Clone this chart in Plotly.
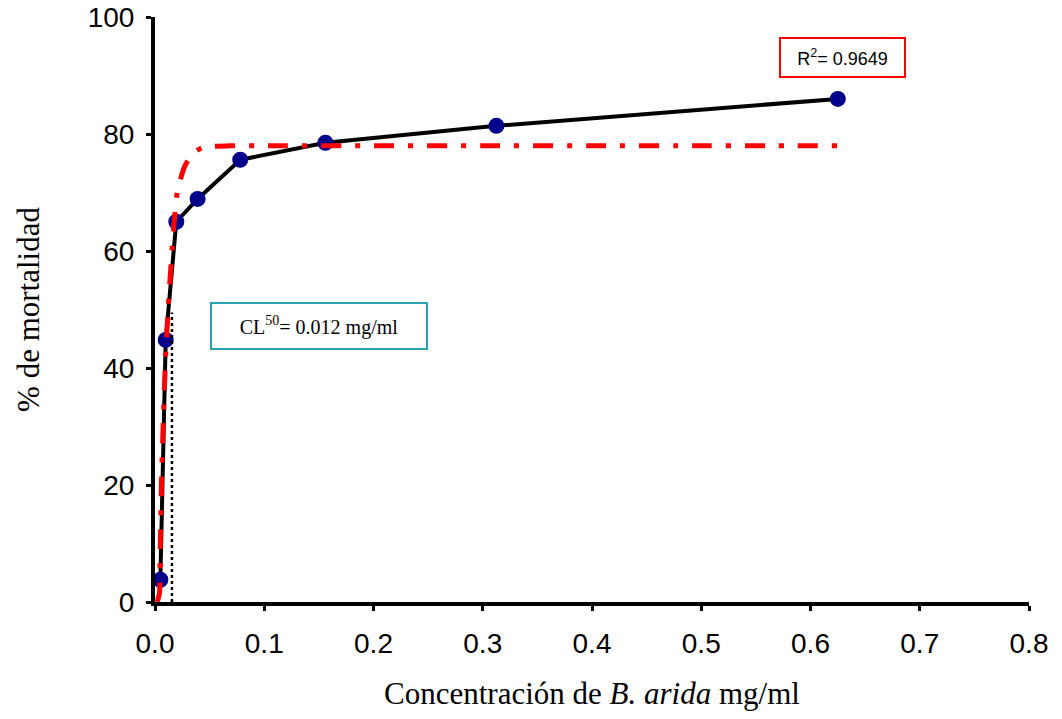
import plotly.graph_objects as go

# Observed data (concentration mg/ml, % mortality)
conc = [0.0049, 0.0098, 0.0195, 0.039, 0.078, 0.156, 0.3125, 0.625]
mort = [3.8, 44.8, 65.0, 68.9, 75.6, 78.5, 81.4, 86.0]

# Fitted curve
fit_x = [0.002, 0.0041, 0.0048, 0.0060, 0.0078, 0.0096, 0.0121, 0.0158, 0.0176,
         0.0206, 0.027, 0.034, 0.0435, 0.071, 0.1, 0.2, 0.3, 0.4, 0.5, 0.625]
fit_y = [0.0, 1.5, 9.4, 20.9, 32.3, 41.4, 50.4, 60.7, 65.0,
         70.4, 74.4, 76.6, 77.7, 78.0, 78.0, 78.0, 78.0, 78.0, 78.0, 78.0]

# LC50 marker line
lc_x = [0.0155, 0.0155]
lc_y = [0, 49.5]

x_ticks = [0.0, 0.1, 0.2, 0.3, 0.4, 0.5, 0.6, 0.7, 0.8]
y_ticks = [0, 20, 40, 60, 80, 100]

fig = go.Figure()
fig.add_trace(go.Scatter(
    x=conc, y=mort, mode="lines+markers",
    line=dict(color="black", width=4),
    marker=dict(color="#00008b", size=16),
    showlegend=False, cliponaxis=False))
fig.add_trace(go.Scatter(
    x=lc_x, y=lc_y, mode="lines",
    line=dict(color="black", width=2.5, dash="dot"),
    showlegend=False))
fig.add_trace(go.Scatter(
    x=fit_x, y=fit_y, mode="lines", line_shape="spline",
    line=dict(color="red", width=5, dash="20px,14px,5px,14px", smoothing=0.5),
    showlegend=False, cliponaxis=False))

fig.add_annotation(
    x=0.629, y=93.1, xref="x", yref="y",
    text="R<sup>2</sup>= 0.9649", showarrow=False,
    font=dict(family="Liberation Sans, Arial", size=18, color="black"),
    bordercolor="red", borderwidth=2, bgcolor="white",
    width=121, height=35)
fig.add_annotation(
    x=0.15, y=47.2, xref="x", yref="y",
    text="CL<sup>50</sup>= 0.012 mg/ml", showarrow=False,
    font=dict(family="Liberation Serif, Times New Roman", size=20, color="black"),
    bordercolor="#2aa0b0", borderwidth=2, bgcolor="white",
    width=212, height=42)

axis_common = dict(
    showline=True, linecolor="black", linewidth=4,
    ticks="outside", ticklen=5, tickwidth=3, tickcolor="black",
    showgrid=False, zeroline=False, automargin=False,
    ticklabeloverflow="allow",
    tickfont=dict(family="Liberation Sans, Arial", size=28, color="black"),
)

fig.update_xaxes(
    range=[0, 0.8], tickvals=x_ticks, tickformat=".1f",
    ticklabelstandoff=8,
    title=dict(text="Concentración de <i>B. arida</i> mg/ml", standoff=26,
               font=dict(family="Liberation Serif, Times New Roman", size=31, color="black")),
    **axis_common)
fig.update_yaxes(
    range=[0, 100], tickvals=y_ticks,
    ticklabelstandoff=6,
    title=dict(text="% de mortalidad", standoff=40,
               font=dict(family="Liberation Serif, Times New Roman", size=31, color="black")),
    **axis_common)

fig.update_layout(
    width=1062, height=719,
    margin=dict(l=155, r=33, t=17, b=117),
    plot_bgcolor="white", paper_bgcolor="white",
)

fig.write_html("out.html", config={"displayModeBar": False},
               post_script="document.body.style.margin='0px';")
